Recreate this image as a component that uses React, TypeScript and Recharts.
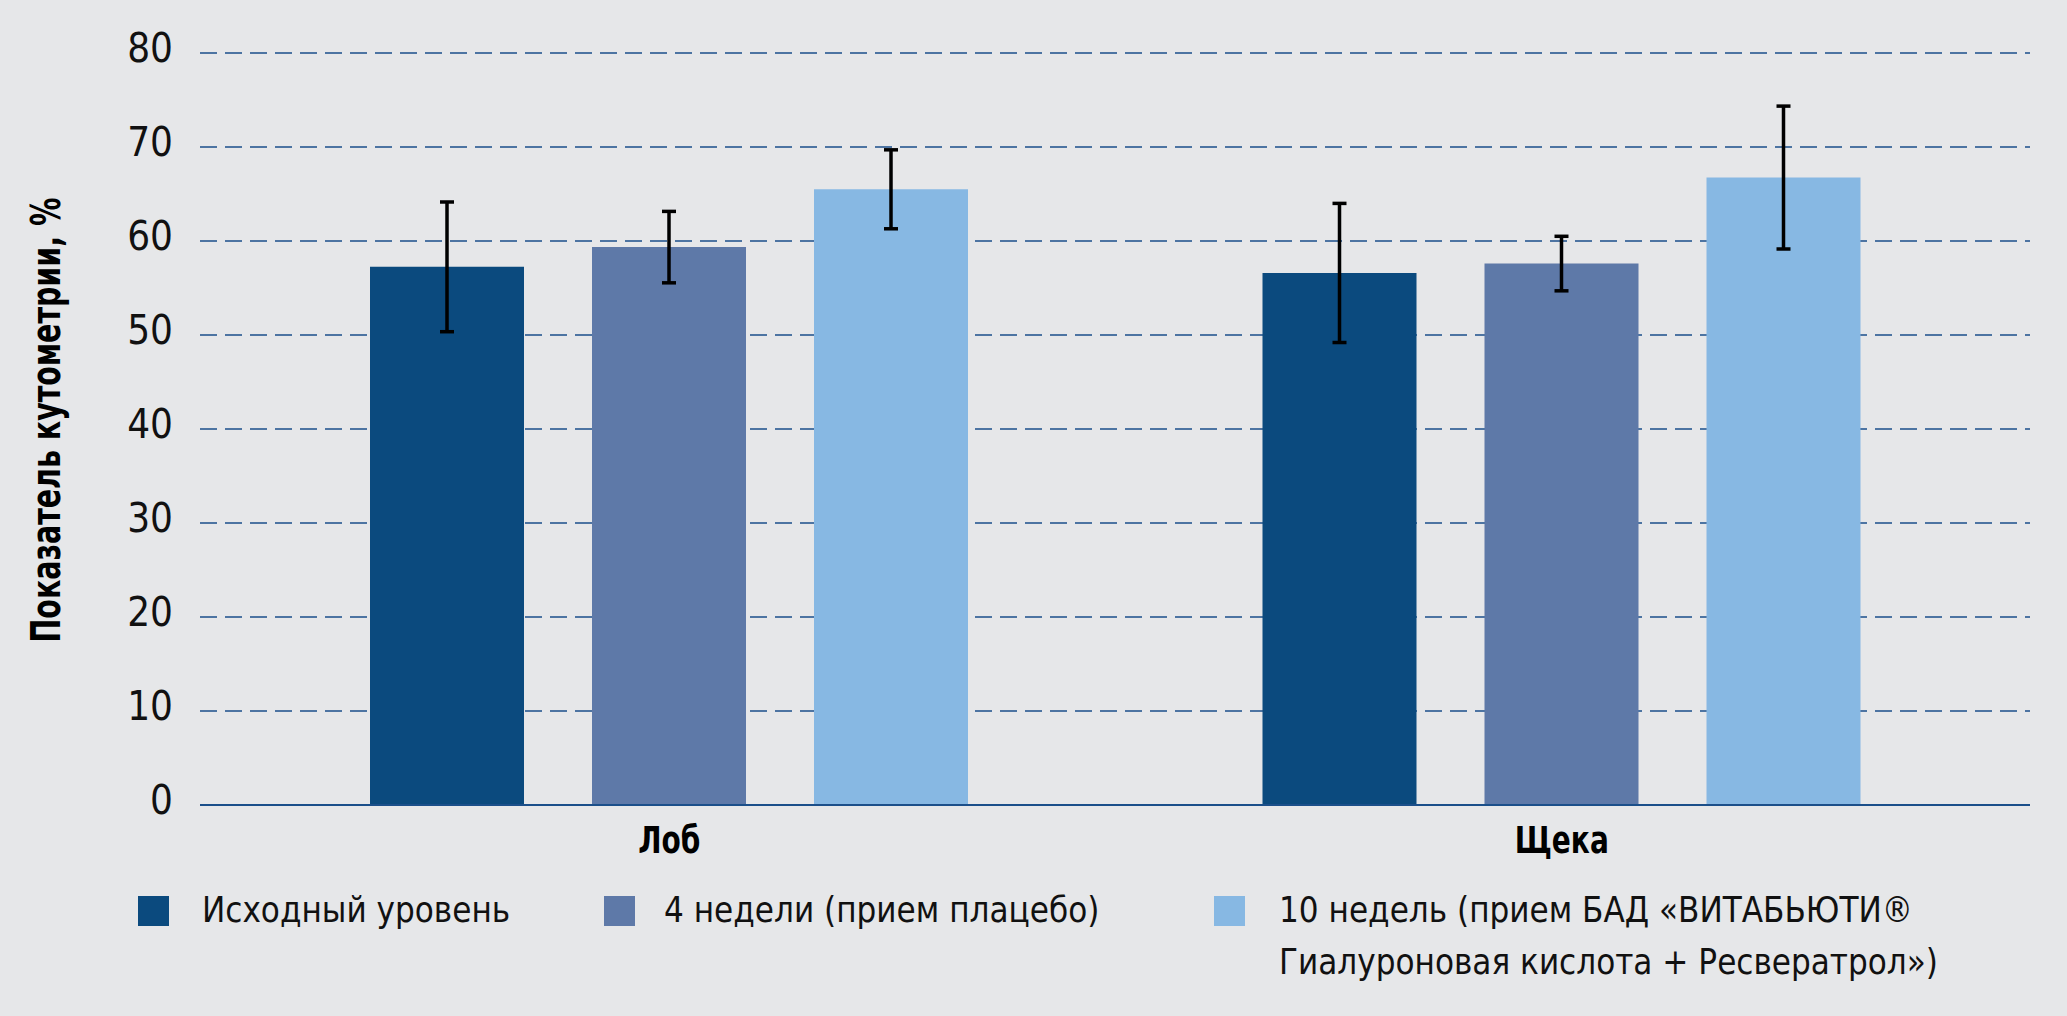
import { BarChart, Bar, XAxis, YAxis, CartesianGrid, ErrorBar } from "recharts";

const SITES = ["Лоб", "Щека"];
const BASELINE = [57.25, 56.6];
const BASELINE_ERR = [6.9, 7.4];
const WEEK4 = [59.35, 57.6];
const WEEK4_ERR = [3.8, 2.9];
const WEEK10 = [65.5, 66.75];
const WEEK10_ERR = [4.2, 7.6];
const Y_TICKS = [0, 10, 20, 30, 40, 50, 60, 70, 80];

const SERIES = [
  { key: "baseline", err: "baselineErr", color: "#0b4a7e", label: ["Исходный уровень"] },
  { key: "week4", err: "week4Err", color: "#5e79a8", label: ["4 недели (прием плацебо)"] },
  {
    key: "week10",
    err: "week10Err",
    color: "#87b8e3",
    label: ["10 недель (прием БАД «ВИТАБЬЮТИ®", "Гиалуроновая кислота + Ресвератрол»)"],
  },
];

const LEGEND_POS = [
  { square: 138, text: 202 },
  { square: 604, text: 664 },
  { square: 1214, text: 1279 },
];

const FONT = "'Liberation Sans Narrow', 'DejaVu Sans Condensed', 'Liberation Sans', sans-serif";
const BG = "#e6e7e9";
const GRID = "#1b4f8a";

const data = SITES.map((name, i) => ({
  name,
  baseline: BASELINE[i],
  baselineErr: BASELINE_ERR[i],
  week4: WEEK4[i],
  week4Err: WEEK4_ERR[i],
  week10: WEEK10[i],
  week10Err: WEEK10_ERR[i],
}));

function YTick({ x, y, payload }: any) {
  return (
    <text x={x} y={y + 9} textAnchor="end" fill="#111" fontSize={40} fontFamily={FONT}>
      {payload.value}
    </text>
  );
}

// the original uses a condensed face; squeeze the bold labels a bit
function XTick({ x, y, payload }: any) {
  const ty = y + 48;
  return (
    <text
      x={x}
      y={ty}
      transform={`translate(${x} ${ty}) scale(0.82 1) translate(${-x} ${-ty})`}
      textAnchor="middle"
      fill="#000"
      fontSize={38}
      fontWeight="bold"
      fontFamily={FONT}
    >
      {payload.value}
    </text>
  );
}

function YTitle({ viewBox }: any) {
  const cx = 46;
  const cy = viewBox.y + viewBox.height / 2 - 9;
  return (
    <text
      x={cx}
      y={cy}
      transform={`rotate(-90 ${cx} ${cy})`}
      textAnchor="middle"
      dominantBaseline="central"
      textLength={445}
      lengthAdjust="spacingAndGlyphs"
      fill="#000"
      fontSize={40}
      fontWeight="bold"
      fontFamily={FONT}
    >
      Показатель кутометрии, %
    </text>
  );
}

export default function App() {
  return (
    <div style={{ position: "absolute", left: 0, top: 0, width: 2067, height: 1016, background: BG, overflow: "hidden" }}>
      <BarChart
        width={2067}
        height={1016}
        data={data}
        margin={{ top: 53, right: 37, bottom: 131, left: 0 }}
        barSize={154}
        barGap={68}
      >
        <CartesianGrid vertical={false} stroke={GRID} strokeWidth={1.5} strokeDasharray="17 8" />
        <XAxis
          dataKey="name"
          height={80}
          padding={{ left: 23, right: 22 }}
          axisLine={{ stroke: GRID, strokeWidth: 2 }}
          tickLine={false}
          tickSize={0}
          tickMargin={0}
          tick={<XTick />}
        />
        <YAxis
          width={200}
          domain={[0, 80]}
          ticks={Y_TICKS}
          axisLine={false}
          tickLine={false}
          tickSize={0}
          tickMargin={27}
          tick={<YTick />}
          label={{ content: <YTitle /> }}
        />
        {SERIES.map((s) => (
          <Bar key={s.key} dataKey={s.key} fill={s.color} isAnimationActive={false}>
            <ErrorBar dataKey={s.err} width={7} strokeWidth={3.5} stroke="#000" isAnimationActive={false} />
          </Bar>
        ))}
      </BarChart>
      {SERIES.map((s, i) => (
        <div key={s.key}>
          <div
            style={{
              position: "absolute",
              left: LEGEND_POS[i].square,
              top: 896,
              width: 31,
              height: 30,
              background: s.color,
            }}
          />
          <div
            style={{
              position: "absolute",
              left: LEGEND_POS[i].text,
              top: 884,
              fontFamily: FONT,
              fontSize: 36,
              lineHeight: "52px",
              color: "#111",
              whiteSpace: "nowrap",
              transform: "scaleX(0.962)",
              transformOrigin: "left top",
            }}
          >
            {s.label.map((line) => (
              <div key={line}>{line}</div>
            ))}
          </div>
        </div>
      ))}
    </div>
  );
}
